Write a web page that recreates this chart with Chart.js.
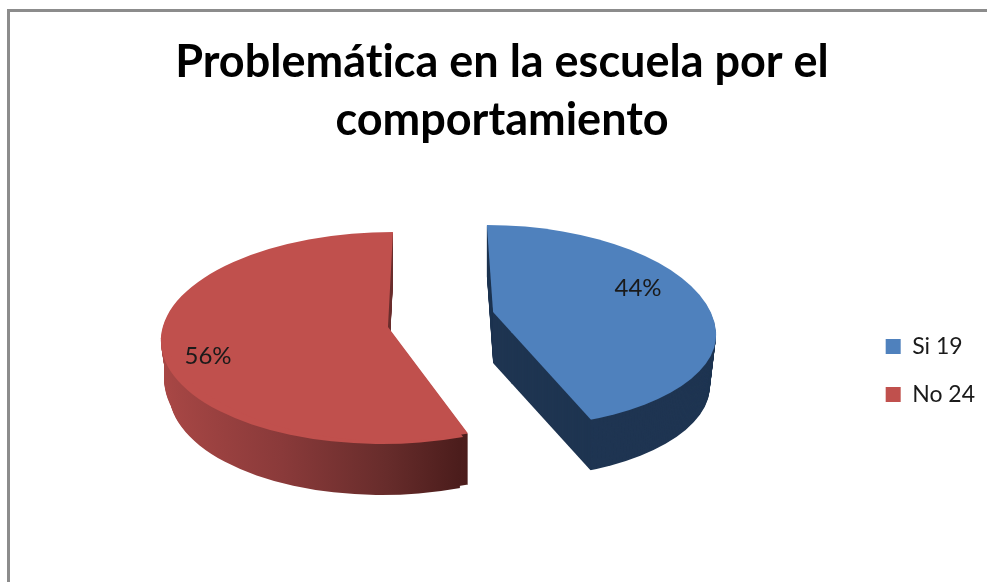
<!DOCTYPE html>
<html>
<head>
<meta charset="utf-8">
<title>Problemática en la escuela por el comportamiento</title>
<script src="https://cdn.jsdelivr.net/npm/chart.js@4"></script>
<style>html,body{margin:0;padding:0;background:#fff}canvas{display:block}</style>
</head>
<body>
<canvas id="c" width="987" height="582"></canvas>
<script>
const titleLines = ["Problemática en la escuela por el", "comportamiento"];
const categories = ["Si", "No"];
const seriesValues = [19, 24];
const sliceColors = ["#4F81BD", "#C0504D"];

const UNIT_RADIUS = 100;
const views = [
  { cx: 494.5, cy: 332, rx: 221.5, ry: 107, ryLow: 96, shear: 0.0714, depth: 51, taper: 0.00055,
    clip: [[693,532],[493,312],[470,200],[470,100],[800,100],[800,532]] },
  { cx: 387.4, cy: 338, rx: 226.5, ry: 106, ryLow: 106, shear: -0.0526, depth: 51, taper: 0.0007,
    patch: { cx: 388, cy: 327, rx: 224, ry: 114, shear: 0 } }
];
const labelSpots = [[638, 288], [208, 356]];

function place(ctx, el, v, ry) {
  ctx.translate(v.cx, v.cy);
  ctx.transform(v.rx / UNIT_RADIUS, 0, v.shear * ry / UNIT_RADIUS, ry / UNIT_RADIUS, 0, 0);
  ctx.translate(-el.x, -el.y);
}
function tinted(el, fill) {
  const copy = Object.create(el);
  const o = Object.create(el.options);
  Object.defineProperty(o, 'backgroundColor', { value: fill });
  Object.defineProperty(o, 'borderWidth', { value: 0 });
  copy.options = o;
  return copy;
}
function clipTo(ctx, pts) {
  ctx.beginPath();
  pts.forEach((p, i) => i ? ctx.lineTo(p[0], p[1]) : ctx.moveTo(p[0], p[1]));
  ctx.closePath();
  ctx.clip();
}
function wallFill(ctx, el, i) {
  if (i === 0) return '#1F3552';
  const v = views[i];
  const toLocal = x => el.x + (x - v.cx) * UNIT_RADIUS / v.rx;
  const g = ctx.createLinearGradient(toLocal(161), 0, toLocal(470), 0);
  g.addColorStop(0, '#A84745');
  g.addColorStop(0.4, '#8A3A3A');
  g.addColorStop(0.75, '#672C2B');
  g.addColorStop(1, '#4A1C1B');
  return g;
}
// one slice at a vertical drop d: upper and lower halves of the ellipse, then the apex patch
function drawSlice(ctx, el, v, target, d) {
  const W = ctx.canvas.width, H = ctx.canvas.height;
  const view = Object.assign({}, v, { rx: v.rx * (1 - v.taper * d) });
  [[0, v.cy + 1, v.ry], [v.cy, H, v.ryLow]].forEach(([y0, y1, ry]) => {
    ctx.save();
    ctx.translate(0, d);
    if (v.clip) clipTo(ctx, v.clip);
    ctx.beginPath();
    ctx.rect(0, y0, W, y1 - y0);
    ctx.clip();
    place(ctx, el, view, ry);
    target.draw(ctx);
    ctx.restore();
  });
  if (v.patch) {
    ctx.save();
    ctx.translate(0, d);
    ctx.beginPath();
    ctx.rect(0, v.patch.cy, W, H);
    ctx.clip();
    place(ctx, el, Object.assign({}, v, v.patch), v.patch.ry);
    target.draw(ctx);
    ctx.restore();
  }
}

const pie3d = {
  id: 'pie3d',
  beforeDatasetDraw(chart, args) {
    const ctx = chart.ctx;
    args.meta.data.forEach((el, i) => {
      const v = views[i];
      const wall = tinted(el, wallFill(ctx, el, i));
      for (let d = v.depth; d >= 1; d--) drawSlice(ctx, el, v, wall, d);
      drawSlice(ctx, el, v, el, 0);
    });
    return false;
  },
  afterDatasetsDraw(chart) {
    const ctx = chart.ctx;
    const total = seriesValues.reduce((a, b) => a + b, 0);
    ctx.save();
    ctx.font = '24px Lato';
    ctx.fillStyle = '#1a1a1a';
    ctx.textAlign = 'center';
    ctx.textBaseline = 'middle';
    seriesValues.forEach((val, i) => {
      ctx.fillText(Math.round(val / total * 100) + '%', labelSpots[i][0], labelSpots[i][1]);
    });
    ctx.restore();
  },
  beforeDraw(chart) {
    const ctx = chart.ctx;
    ctx.textRendering = 'optimizeSpeed';
    ctx.save();
    ctx.fillStyle = '#fff';
    ctx.fillRect(0, 0, chart.width, chart.height);
    ctx.strokeStyle = '#8C8C8C';
    ctx.lineWidth = 3;
    ctx.beginPath();
    ctx.moveTo(8.5, 582);
    ctx.lineTo(8.5, 10.5);
    ctx.lineTo(987, 10.5);
    ctx.stroke();
    ctx.restore();
  }
};

new Chart(document.getElementById('c'), {
  type: 'pie',
  data: {
    labels: categories.map((c, i) => c + ' ' + seriesValues[i]),
    datasets: [{
      data: seriesValues,
      backgroundColor: sliceColors,
      borderWidth: 0,
      clip: false
    }]
  },
  options: {
    responsive: false,
    animation: false,
    events: [],
    radius: UNIT_RADIUS,
    layout: { padding: { left: 19, right: 2, top: 33, bottom: -6 } },
    plugins: {
      title: {
        display: true,
        text: titleLines,
        color: '#000',
        font: { family: 'Lato', size: 45, weight: 'bold', lineHeight: 1.29 },
        padding: { top: 0, bottom: 10 }
      },
      legend: {
        position: 'right',
        fullSize: false,
        labels: {
          boxWidth: 15,
          boxHeight: 15,
          padding: 25,
          color: '#1a1a1a',
          font: { family: 'Lato', size: 23 }
        }
      },
      tooltip: { enabled: false }
    }
  },
  plugins: [pie3d]
});
</script>
</body>
</html>
